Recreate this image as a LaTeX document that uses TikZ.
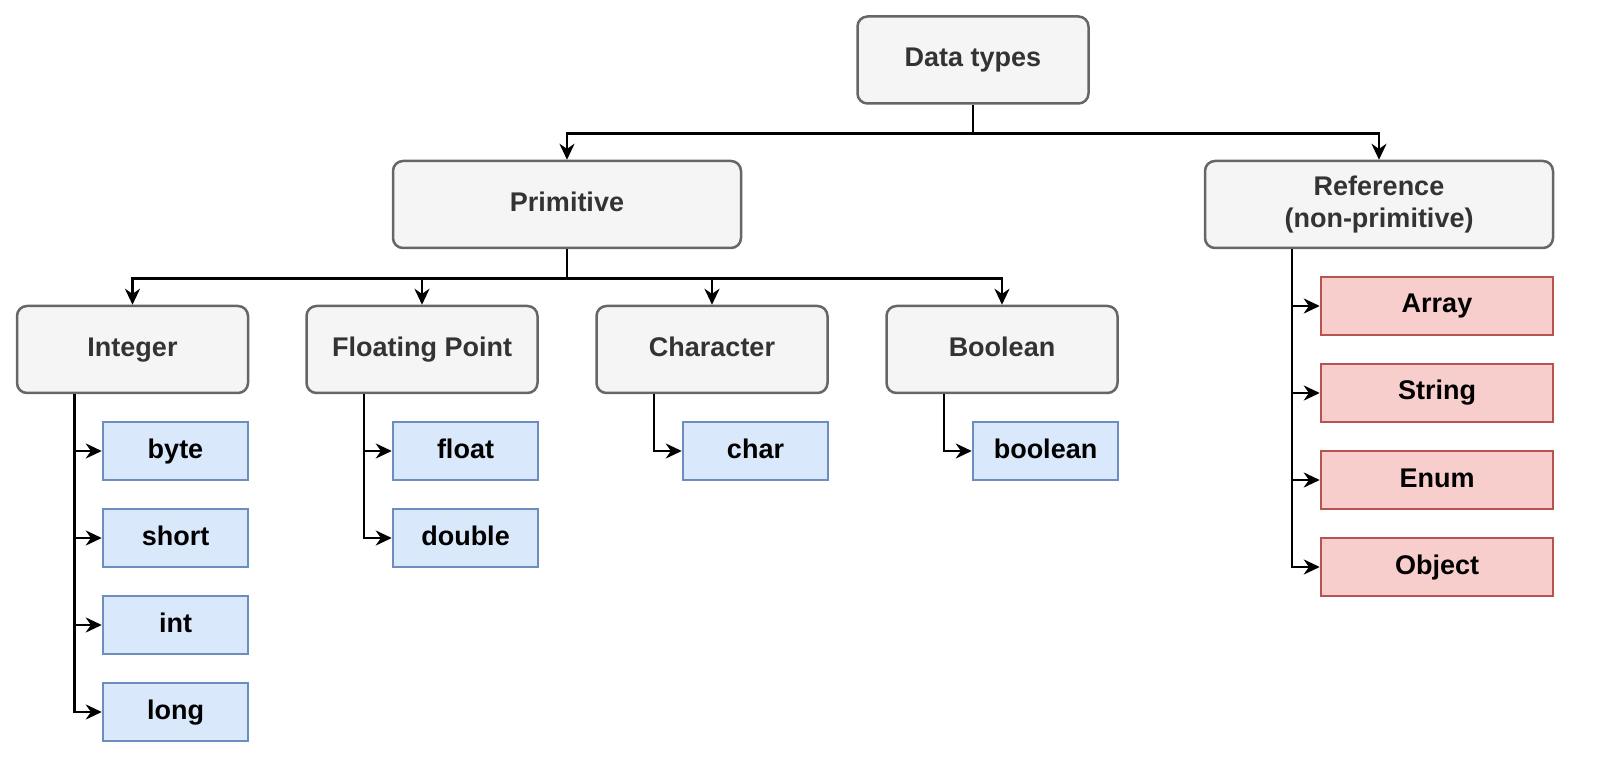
\documentclass[tikz,border=0pt]{standalone}
\usepackage{fontspec}
\setmainfont{Liberation Sans}
\usetikzlibrary{arrows.meta}
\definecolor{gf}{HTML}{F5F5F5}\definecolor{gb}{HTML}{666666}
\definecolor{bf}{HTML}{DAE8FC}\definecolor{bb}{HTML}{6C8EBF}
\definecolor{rf}{HTML}{F8CECC}\definecolor{rb}{HTML}{B85450}
\definecolor{gt}{HTML}{333333}
\begin{document}
\begin{tikzpicture}[x=1pt,y=-1pt,
 base/.style={draw,line width=2.5pt,font=\fontsize{27}{32}\selectfont\bfseries,align=center,inner sep=0pt},
 one/.style={text height=20pt,text depth=6pt},
 cat/.style={base,fill=gf,draw=gb,rounded corners=10pt,minimum width=231pt,minimum height=87pt,text=gt},
 big/.style={cat,minimum width=348pt},
 leaf/.style={base,one,fill=bf,draw=bb,minimum width=145pt,minimum height=58pt},
 ref/.style={base,one,fill=rf,draw=rb,minimum width=232pt,minimum height=58pt},
 con/.style={line width=2.8pt,-{Stealth[length=16pt,width=15pt]}}]
\useasboundingbox (0,0) rectangle (1623,783);
\node[cat,one] (dt) at (973,60) {Data types};
\node[big,one] (pr) at (567,204.5) {Primitive};
\node[big] (re) at (1379,204.5) {Reference\\(non-primitive)};
\node[cat,one] (in) at (132.5,349.5) {Integer};
\node[cat,one] (fp) at (422,349.5) {Floating Point};
\node[cat,one] (ch) at (712,349.5) {Character};
\node[cat,one] (bo) at (1002,349.5) {Boolean};
\node[leaf] (byte) at (175.5,451) {byte};
\node[leaf] (short) at (175.5,538) {short};
\node[leaf] (int) at (175.5,625) {int};
\node[leaf] (long) at (175.5,712) {long};
\node[leaf] (float) at (465.5,451) {float};
\node[leaf] (double) at (465.5,538) {double};
\node[leaf] (char) at (755.5,451) {char};
\node[leaf] (bool) at (1045.5,451) {boolean};
\node[ref] (arr) at (1437,306) {Array};
\node[ref] (str) at (1437,393) {String};
\node[ref] (enu) at (1437,480) {Enum};
\node[ref] (obj) at (1437,567) {Object};
\foreach \c in {pr,re} \draw[con] (dt.south) -- ++(0,29) -| (\c.north);
\foreach \c in {in,fp,ch,bo} \draw[con] (pr.south) -- ++(0,29) -| (\c.north);
\foreach \p/\c in {in/byte,in/short,in/int,in/long,fp/float,fp/double,ch/char,bo/bool}
  \draw[con] ([xshift=-58pt]\p.south) |- (\c.west);
\foreach \c in {arr,str,enu,obj} \draw[con] ([xshift=-87pt]re.south) |- (\c.west);
\end{tikzpicture}
\end{document}
